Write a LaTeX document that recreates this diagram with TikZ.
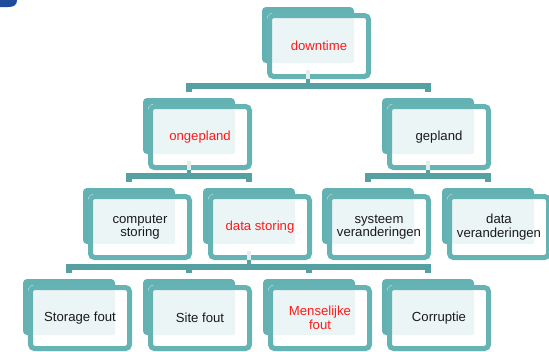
\documentclass[tikz,border=0pt]{standalone}
\usepackage{fontspec}
\setmainfont{Liberation Sans}
\definecolor{backc}{HTML}{63B1B3}
\definecolor{borderc}{HTML}{66B3B4}
\definecolor{barc}{HTML}{55A0A1}
\definecolor{lightc}{HTML}{EBF5F6}
\definecolor{stubc}{HTML}{E0EEEF}
\definecolor{txtblack}{HTML}{1A1A1A}
\definecolor{txtred}{HTML}{FF1A1A}
\definecolor{blobc}{HTML}{1E4C9C}
\tikzset{
  frontbox/.style={draw=borderc, line width=5bp, rounded corners=4bp,
    minimum width=99bp, minimum height=61bp, inner sep=0pt, align=center,
    font=\fontsize{13.2}{13.8}\selectfont},
  barline/.style={draw=barc, line width=5.5bp},
  stemline/.style={draw=barc, line width=4bp},
  stubline/.style={draw=stubc, line width=4bp},
}
% #1 name, #2 left, #3 top (of back panel), #4 text, #5 text colour
\newcommand\orgbox[5]{%
  \fill[backc, rounded corners=4bp] (#2,#3) rectangle ++(92,56);
  \fill[white, rounded corners=6bp] (#2+5,#3+6) rectangle ++(104,66);
  \fill[lightc, rounded corners=2bp] (#2+10,#3+11) rectangle (#2+92,#3+56);
  \node[frontbox, text=#5] (#1) at (#2+57,#3+39) {#4};
  \coordinate (#1-in) at (#2+46,#3-6.5);
  \coordinate (#1-bar) at (#2+46,#3-12);
  \coordinate (#1-out) at (#2+46,#3+63);
}
\begin{document}
\begin{tikzpicture}[x=1bp,y=-1bp]
\useasboundingbox (0,0) rectangle (549,351);
\fill[white] (0,0) rectangle (549,351);
% blue fragment in the corner
\fill[blobc] (0,0) -- (17,0) .. controls (17,5) and (14,7) .. (8,7) -- (0,7) -- cycle;

% level 1
\orgbox{downtime}{262}{7}{downtime}{txtred}
% level 2
\orgbox{ongepland}{143}{98}{ongepland}{txtred}
\orgbox{gepland}{382}{98}{gepland}{txtblack}
% level 3
\orgbox{computer}{83}{188}{computer\\storing}{txtblack}
\orgbox{datastoring}{203}{188}{data storing}{txtred}
\orgbox{systeem}{322}{188}{systeem\\veranderingen}{txtblack}
\orgbox{dataver}{442}{188}{data\\veranderingen}{txtblack}
% level 4
\orgbox{storage}{23}{279}{Storage fout}{txtblack}
\orgbox{site}{143}{279}{Site fout}{txtblack}
\orgbox{mens}{263}{279}{Menselijke\\fout}{txtred}
\orgbox{corruptie}{382}{279}{Corruptie}{txtblack}

% connectors: downtime
\draw[stubline] (downtime-out) -- (downtime.south -| downtime-out);
\draw[stemline] (downtime.south -| downtime-out) -- (downtime-out |- ongepland-bar);
\draw[barline] (ongepland-in) -- (ongepland-bar) -- (gepland-bar) -- (gepland-in);
% ongepland
\draw[stubline] (ongepland-out) -- (ongepland.south -| ongepland-out);
\draw[stemline] (ongepland.south -| ongepland-out) -- (ongepland-out |- computer-bar);
\draw[barline] (computer-in) -- (computer-bar) -- (datastoring-bar) -- (datastoring-in);
% gepland
\draw[stubline] (gepland-out) -- (gepland.south -| gepland-out);
\draw[stemline] (gepland.south -| gepland-out) -- (gepland-out |- systeem-bar);
\draw[barline] (systeem-in) -- (systeem-bar) -- (dataver-bar) -- (dataver-in);
% data storing
\draw[stubline] (datastoring-out) -- (datastoring.south -| datastoring-out);
\draw[stemline] (datastoring.south -| datastoring-out) -- (datastoring-out |- storage-bar);
\draw[barline] (storage-in) -- (storage-bar) -- (corruptie-bar) -- (corruptie-in);
\draw[barline] (site-in) -- (site-bar);
\draw[barline] (mens-in) -- (mens-bar);
\end{tikzpicture}
\end{document}
